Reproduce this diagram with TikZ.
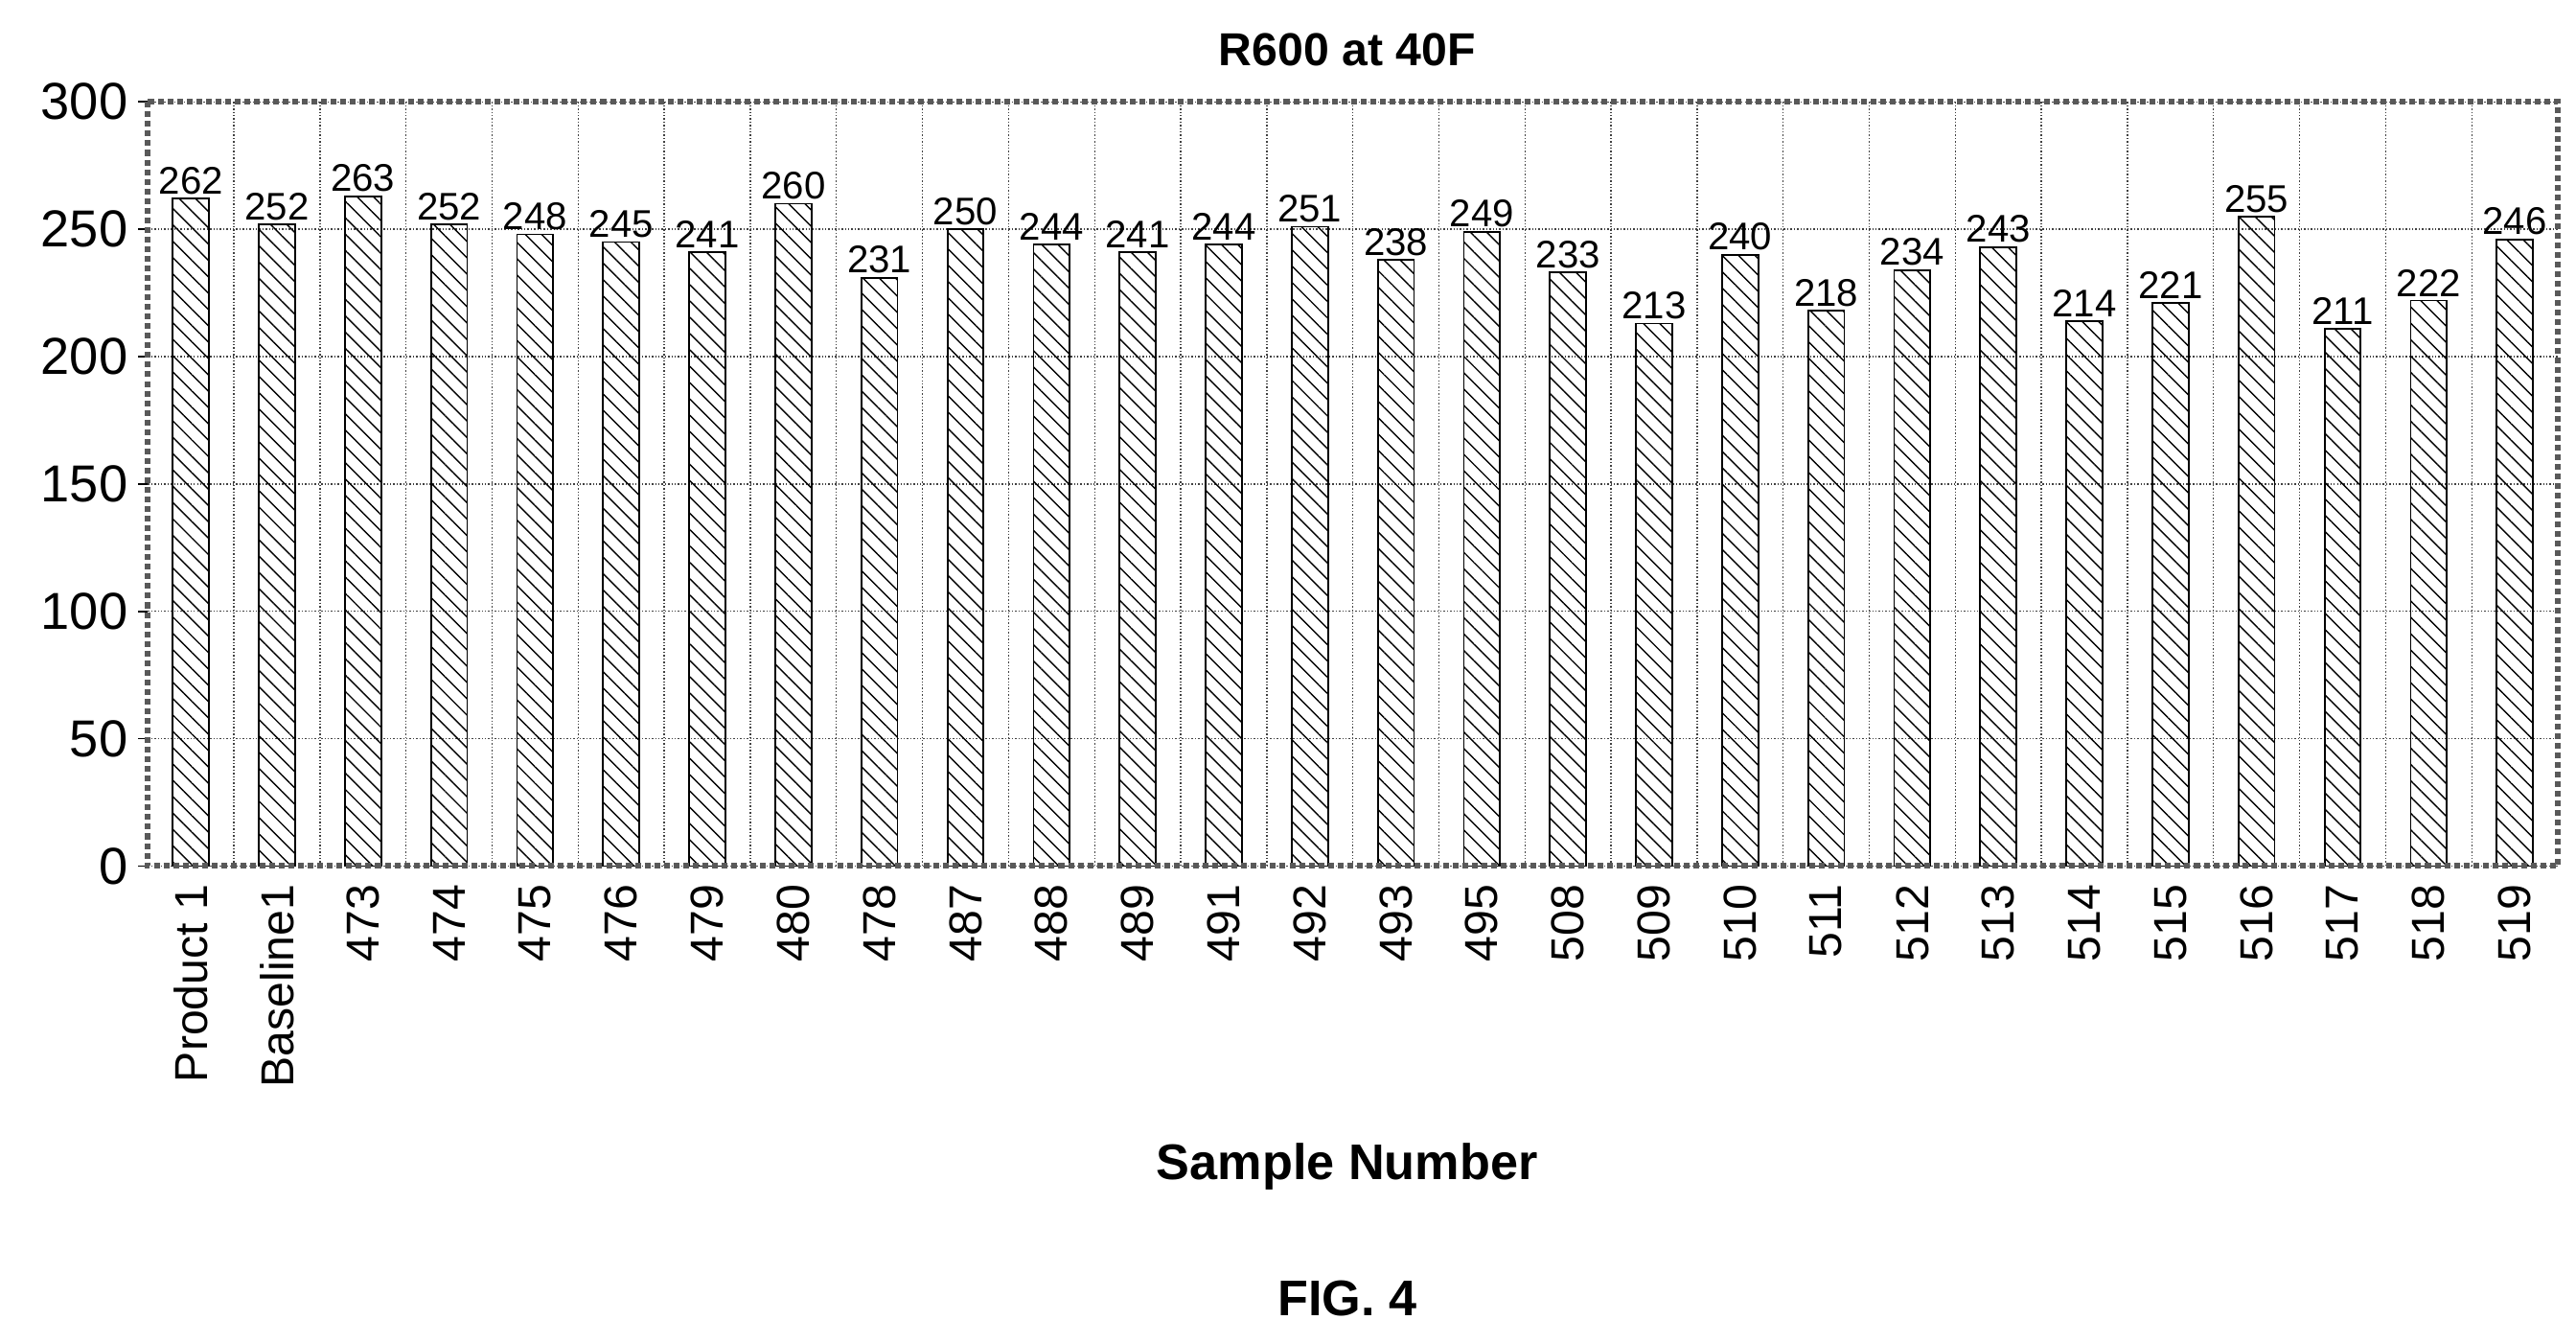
\documentclass[tikz,border=0pt]{standalone}
\usepackage{fontspec}
\setmainfont{Liberation Sans}
\usetikzlibrary{patterns.meta}

\begin{document}
\begin{tikzpicture}[x=0.03cm,y=-0.03cm]
\tikzset{
  frame/.style = {draw=black!65, line width=3pt, dotted},
  grid line/.style = {draw=black!75, line width=0.7pt, densely dotted},
  bar/.style = {draw=black, line width=0.9pt, fill=white, pattern={Lines[angle=-45,distance=6pt,line width=0.7pt]}},
  val label/.style = {font=\fontsize{20}{20}\selectfont, anchor=south, inner sep=2pt},
  cat label/.style = {font=\fontsize{24}{24}\selectfont, rotate=90, anchor=east, inner sep=0pt},
  tick label/.style = {font=\fontsize{27}{27}\selectfont, anchor=east, inner sep=0pt},
  big title/.style = {font=\bfseries\fontsize{24}{24}\selectfont}
}
\useasboundingbox (0,0) rectangle (1568,817);
\fill[white] (0,0) rectangle (1568,817);

% horizontal grid and y ticks
\foreach \v in {0,50,...,300}{
  \draw[grid line] (90,527-1.55*\v) -- (1557,527-1.55*\v);
  \draw[black, line width=0.8pt] (84,527-1.55*\v) -- (90,527-1.55*\v);
  \node[tick label] at (78,527-1.55*\v) {\v};
}
% vertical grid
\foreach \k in {1,...,27}
  \draw[grid line] (90+52.39*\k,62) -- (90+52.39*\k,527);

% bars, values and categories
\foreach \lab/\val [count=\i] in {Product 1/262,Baseline1/252,473/263,474/252,475/248,476/245,479/241,480/260,478/231,487/250,488/244,489/241,491/244,492/251,493/238,495/249,508/233,509/213,510/240,511/218,512/234,513/243,514/214,515/221,516/255,517/211,518/222,519/246}{
  \pgfmathsetmacro{\cx}{90+52.39*(\i-0.5)}
  \pgfmathsetmacro{\ty}{527-1.55*\val}
  \draw[bar] (\cx-11,527) rectangle (\cx+11,\ty);
  \node[val label] (v\i) at (\cx,\ty) {\val};
  \node[cat label] (c\i) at (\cx,538) {\lab};
}

\draw[frame] (90,62) rectangle (1557,527);

\node[big title] (title) at (820,30) {R600 at 40F};
\node[big title, font=\bfseries\fontsize{26}{26}\selectfont] (xlab) at (820,710) {Sample Number};
\node[big title, font=\bfseries\fontsize{26}{26}\selectfont] (fig) at (820,790) {FIG. 4};
\end{tikzpicture}
\end{document}
